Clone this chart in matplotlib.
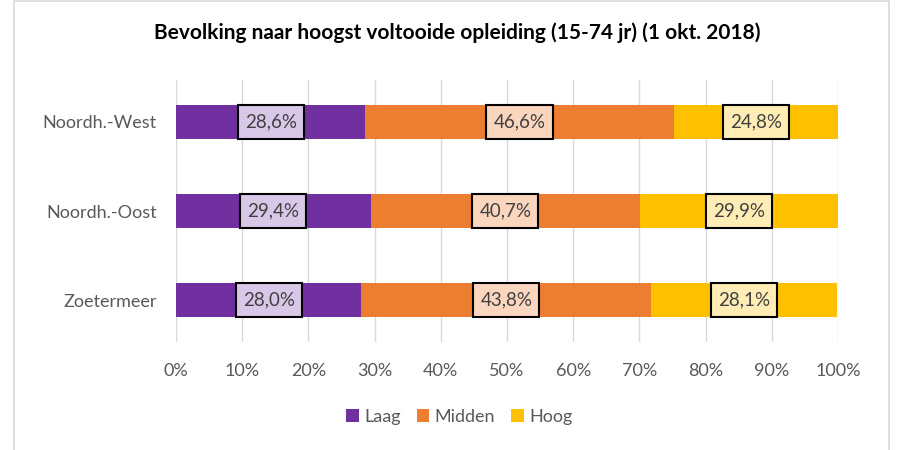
import matplotlib
matplotlib.use("Agg")
import matplotlib.pyplot as plt
from matplotlib.patches import Rectangle, Patch
from matplotlib.ticker import FuncFormatter

categories = ["Zoetermeer", "Noordh.-Oost", "Noordh.-West"]
series_names = ["Laag", "Midden", "Hoog"]
laag = [28.0, 29.4, 28.6]
midden = [43.8, 40.7, 46.6]
hoog = [28.1, 29.9, 24.8]
values = [laag, midden, hoog]
colors = ["#7030A0", "#ED7D31", "#FFC000"]
label_fills = ["#D9C7E8", "#FAD6BE", "#FFEDB5"]
title = "Bevolking naar hoogst voltooide opleiding (15-74 jr) (1 okt. 2018)"

plt.rcParams['font.family'] = ['Lato', 'DejaVu Sans']

fig = plt.figure(figsize=(9.06, 4.5), dpi=100)
fig.patches.append(Rectangle((14/906, -0.01), (889-14)/906, 1 - 1/450 + 0.01,
                             transform=fig.transFigure, fill=False,
                             edgecolor="#D9D9D9", linewidth=1.2))
ax = fig.add_axes([176/906, 1-342/450, (838-176)/906, (342-80)/450])

box_w = 10.0
box_h = 0.38
y = list(range(len(categories)))
left = [0.0]*len(categories)
for name, vals, col, fill in zip(series_names, values, colors, label_fills):
    ax.barh(y, vals, left=left, height=0.39, color=col, label=name, zorder=2)
    for yi, l, v in zip(y, left, vals):
        cx = l + v/2
        ax.add_patch(Rectangle((cx - box_w/2, yi - box_h/2), box_w, box_h,
                               facecolor=fill, edgecolor="black", linewidth=1.5,
                               zorder=3))
        ax.text(cx, yi, f"{v:.1f}%".replace(".", ","), ha="center", va="center",
                fontsize=13.5, color="#404040", zorder=4)
    left = [a + b for a, b in zip(left, vals)]

ax.set_xlim(0, 100)
ax.set_ylim(-0.47, 2.47)
ax.set_xticks(range(0, 101, 10))
ax.xaxis.set_major_formatter(FuncFormatter(lambda v, p: f"{int(v)}%"))
ax.set_yticks(y)
ax.set_yticklabels(categories)
ax.grid(axis="x", color="#D9D9D9", linewidth=1, zorder=0)
ax.set_axisbelow(True)
for s in ax.spines.values():
    s.set_visible(False)
ax.tick_params(axis="both", length=0, labelsize=13, colors="#595959")
ax.tick_params(axis="x", pad=15)
ax.tick_params(axis="y", pad=14)

fig.text(0.505, 1-33/450, title, ha="center", va="center", fontsize=15,
         fontweight="bold", color="black")

handles = [Patch(facecolor=c, label=n) for n, c in zip(series_names, colors)]
leg = fig.legend(handles=handles, loc="center", bbox_to_anchor=(0.507, 1-417/450),
                 ncol=3, frameon=False, fontsize=13, handlelength=0.7,
                 handleheight=0.7, handletextpad=0.3, columnspacing=0.9)
for t in leg.get_texts():
    t.set_color("#595959")

fig.savefig("out.png", dpi=100)
